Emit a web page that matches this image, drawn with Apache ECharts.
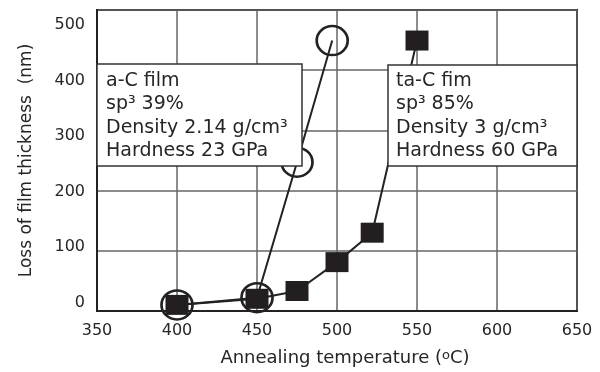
<!DOCTYPE html>
<html><head><meta charset="utf-8">
<script src="https://cdn.jsdelivr.net/npm/echarts@6/dist/echarts.min.js"></script>
<style>html,body{margin:0;padding:0;background:#fff}#c{width:600px;height:372px}</style>
</head><body><div id="c"></div>
<script>
// ---- data ----
const yTickLabels = [0, 100, 200, 300, 400, 500];
const aC_temp = [400, 450, 475, 497];
const aC_loss = [-4, 9, 253, 472];
const taC_temp = [400, 450, 475, 500, 522, 550];
const taC_loss = [-4, 7, 21, 73, 126, 472];
const aC_text = ['a-C film', 'sp\u00b3 39%', 'Density 2.14 g/cm\u00b3', 'Hardness 23 GPa'];
const taC_text = ['ta-C fim', 'sp\u00b3 85%', 'Density 3 g/cm\u00b3', 'Hardness 60 GPa'];

const FONT = 'DejaVu Sans';
const TXT = '#262626';
const chart = echarts.init(document.getElementById('c'));
const ellipse = 'path://M16,0A16,16,0,1,1,16,32A16,16,0,1,1,16,0Z';

chart.setOption({
  animation: false,
  backgroundColor: '#fff',
  grid: { left: 97, right: 23, top: 10, bottom: 59, show: true, borderColor: '#222', borderWidth: 2, backgroundColor: 'transparent' },
  xAxis: {
    type: 'value', min: 350, max: 650, interval: 50,
    axisLine: { show: true, onZero: false, lineStyle: { color: '#222', width: 2 } },
    axisTick: { show: false },
    axisLabel: { margin: 12, color: TXT, fontFamily: FONT, fontSize: 16 },
    splitLine: { show: true, lineStyle: { color: '#666', width: 1.5 } },
    name: 'Annealing temperature ({sup|o}C)',
    nameLocation: 'middle', nameGap: 38,
    nameTextStyle: {
      color: TXT, fontFamily: FONT, fontSize: 18, padding: [0, 0, 0, 16],
      rich: { sup: { fontSize: 13, fontFamily: FONT, color: TXT, verticalAlign: 'top' } }
    }
  },
  yAxis: [
    {
      type: 'value', min: -15, max: 527,
      axisLine: { show: true, onZero: false, lineStyle: { color: '#222', width: 2 } },
      axisTick: { show: false },
      splitLine: { show: false },
      axisLabel: { customValues: yTickLabels, margin: 12, color: TXT, fontFamily: FONT, fontSize: 16 },
      name: 'Loss of film thickness  (nm)',
      nameLocation: 'middle', nameGap: 62,
      nameTextStyle: { color: TXT, fontFamily: FONT, fontSize: 17, padding: [0, 0, 0, 0] }
    },
    {
      type: 'value', min: 0, max: 5, interval: 1, position: 'left',
      axisLine: { show: false, onZero: false }, axisTick: { show: false }, axisLabel: { show: false },
      splitLine: { show: true, lineStyle: { color: '#666', width: 1.5 } }
    }
  ],
  series: [
    {
      type: 'line', name: 'a-C film', yAxisIndex: 0,
      data: aC_temp.map((t, i) => [t, aC_loss[i]]),
      symbol: ellipse, symbolSize: [31, 29],
      lineStyle: { color: '#222', width: 2 },
      itemStyle: { color: 'rgba(0,0,0,0)', borderColor: '#222', borderWidth: 2.6 },
      z: 3
    },
    {
      type: 'line', name: 'ta-C film', yAxisIndex: 0,
      data: taC_temp.map((t, i) => [t, taC_loss[i]]),
      symbol: 'rect', symbolSize: [23, 20],
      lineStyle: { color: '#222', width: 2 },
      itemStyle: { color: '#231f20', borderWidth: 0 },
      z: 4
    }
  ],
  graphic: [
    { type: 'rect', z: 100, shape: { x: 97, y: 64, width: 205, height: 102 }, style: { fill: '#fff', stroke: '#333', lineWidth: 1.5 } },
    { type: 'text', z: 101, x: 106, y: 69, style: { text: aC_text.join('\n'), fontSize: 19, fontFamily: FONT, fill: TXT, lineHeight: 23.5, verticalAlign: 'top' } },
    { type: 'rect', z: 100, shape: { x: 388, y: 65, width: 189, height: 101 }, style: { fill: '#fff', stroke: '#333', lineWidth: 1.5 } },
    { type: 'text', z: 101, x: 396, y: 69, style: { text: taC_text.join('\n'), fontSize: 19, fontFamily: FONT, fill: TXT, lineHeight: 23.5, verticalAlign: 'top' } }
  ]
});
</script></body></html>
